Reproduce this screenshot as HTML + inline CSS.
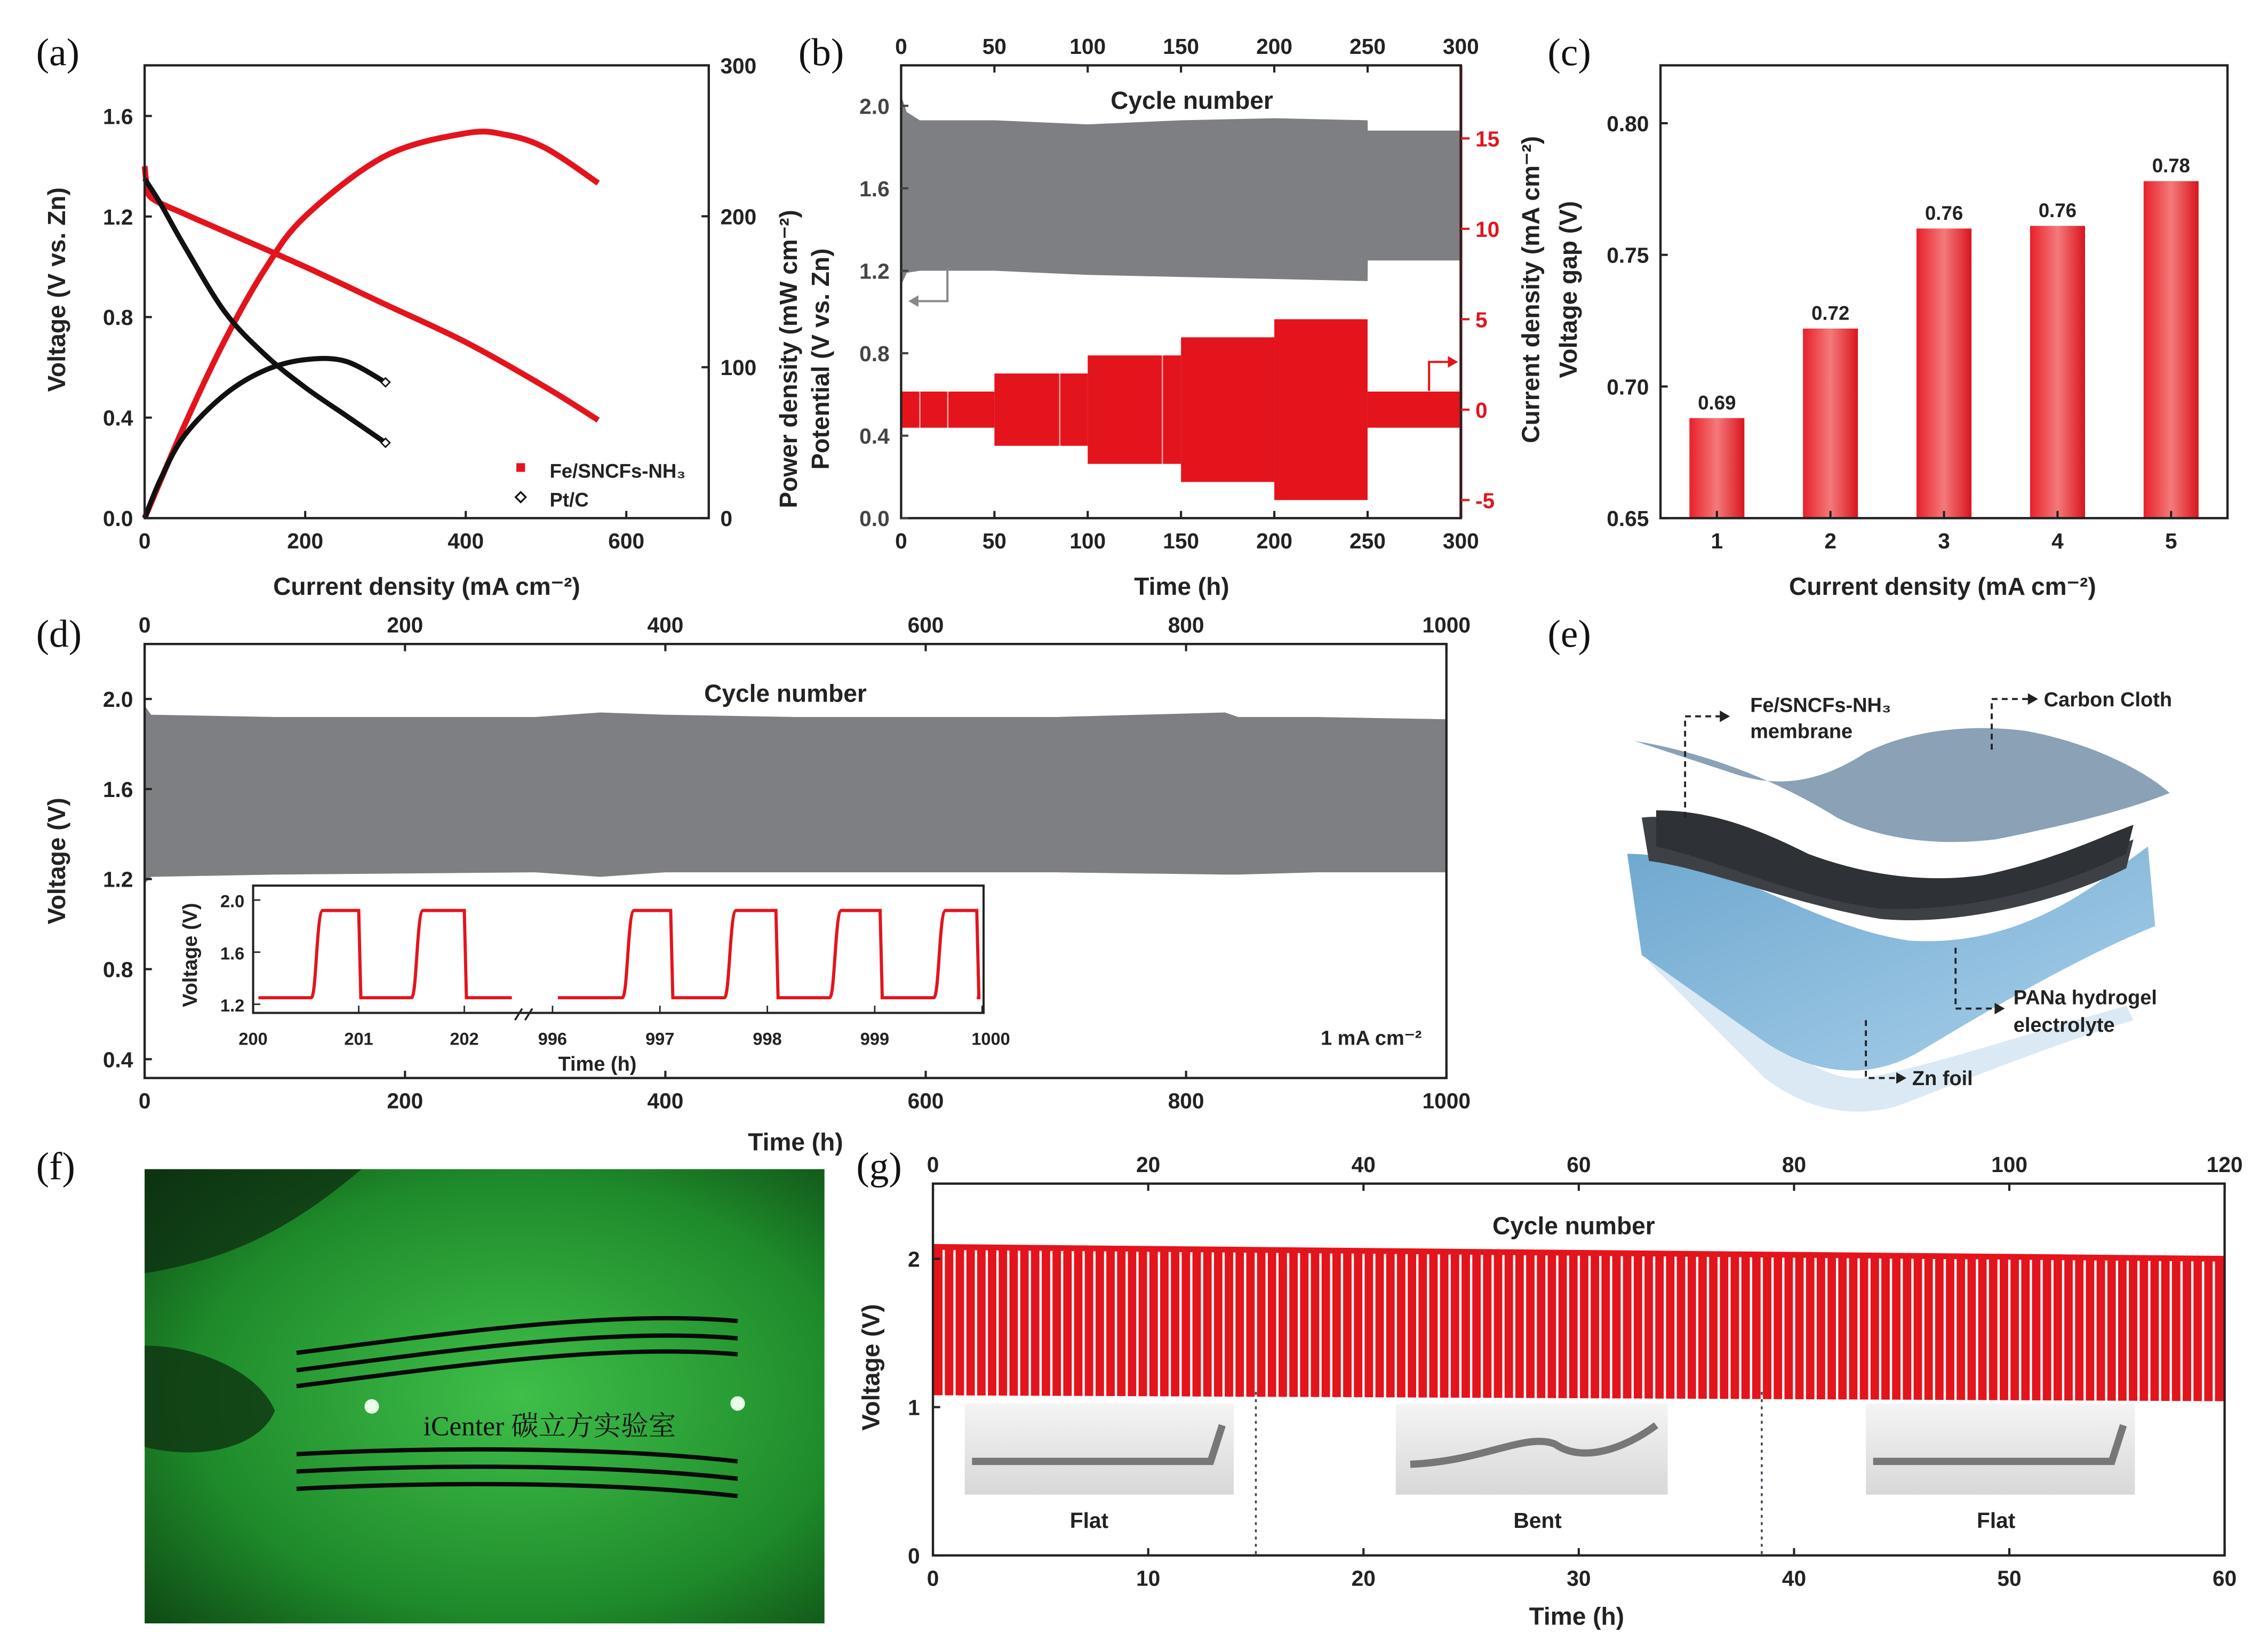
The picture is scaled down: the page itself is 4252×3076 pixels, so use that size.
<!DOCTYPE html>
<html><head><meta charset="utf-8">
<style>
html,body{margin:0;padding:0;background:#fff;}
svg{display:block;}
text{font-family:"Liberation Sans","Noto Sans CJK SC",sans-serif;font-weight:bold;fill:#222;}
.pl{font-family:"Liberation Serif",serif;font-weight:normal;font-size:27px;fill:#111;}
</style></head>
<body>
<svg id="fig" xmlns="http://www.w3.org/2000/svg" width="4252" height="3076" viewBox="0 0 1568 1134">
<defs>
<linearGradient id="barg" x1="0" x2="1" y1="0" y2="0"><stop offset="0" stop-color="#e8202a"/><stop offset="0.5" stop-color="#f47a7a"/><stop offset="1" stop-color="#d9141e"/></linearGradient>
<radialGradient id="greeng" cx="0.55" cy="0.5" r="0.8"><stop offset="0" stop-color="#3fbf4a"/><stop offset="0.6" stop-color="#1e8a2a"/><stop offset="1" stop-color="#0b3a10"/></radialGradient>
<linearGradient id="gel" x1="0" x2="1" y1="0" y2="1"><stop offset="0" stop-color="#6fa8cf"/><stop offset="1" stop-color="#a9d0ea"/></linearGradient>
<linearGradient id="photo" x1="0" x2="0" y1="0" y2="1"><stop offset="0" stop-color="#f4f4f4"/><stop offset="1" stop-color="#d8d8d8"/></linearGradient>
</defs>
</svg>
<script>
// ---------- data ----------
const aRedI=[0,3,10,50,100,200,300,400,500,565];
const aRedV=[1.40,1.32,1.27,1.21,1.14,1.00,0.85,0.70,0.52,0.39];
const aRedPI=[0,50,100,150,200,300,400,450,500,565];
const aRedP=[0,62,118,165,200,240,255,254,245,222];
const aBlkI=[0,20,50,100,150,200,250,300];
const aBlkV=[1.35,1.25,1.08,0.82,0.65,0.52,0.41,0.30];
const aBlkP=[0,26,55,82,98,105,104,90];
const bGrayT=[0,3,10,50,100,150,200,250,250.1,300];
const bGrayTop=[2.05,1.97,1.93,1.93,1.91,1.93,1.94,1.93,1.88,1.88];
const bGrayBot=[1.13,1.19,1.20,1.20,1.18,1.17,1.16,1.15,1.25,1.25];
const bSegStart=[0,50,100,150,200,250];
const bSegEnd=[50,100,150,200,250,300];
const bSegAmp=[1,2,3,4,5,1];
const cCats=["1","2","3","4","5"];
const cVals=[0.688,0.722,0.760,0.761,0.778];
const cLabels=["0.69","0.72","0.76","0.76","0.78"];
const dT=[0,5,100,300,350,400,500,700,830,840,900,1000];
const dTop=[1.97,1.93,1.92,1.92,1.94,1.93,1.92,1.92,1.94,1.92,1.92,1.91];
const dBot=[1.18,1.21,1.22,1.23,1.21,1.23,1.23,1.23,1.22,1.22,1.23,1.23];
const dInsetRiseL=[200.6,201.55];
const dInsetFallL=[201.0,202.0];
const dInsetRiseR=[996.7,997.65,998.63,999.6];
const dInsetFallR=[997.1,998.08,999.05,1000.1];
const gCycles=120;
const gTop0=2.10,gTop1=2.02,gBot0=1.08,gBot1=1.04;
// ---------- helpers ----------
const NS="http://www.w3.org/2000/svg";
const svg=document.getElementById('fig');
function el(tag,at,parent){const e=document.createElementNS(NS,tag);for(const k in at)e.setAttribute(k,at[k]);(parent||svg).appendChild(e);return e;}
function txt(x,y,s,size,anchor,parent,extra){const t=el('text',Object.assign({x:x,y:y,'font-size':size,'text-anchor':anchor||'middle'},extra||{}),parent);t.textContent=s;return t;}
function lin(d0,d1,p0,p1){return v=>p0+(v-d0)*(p1-p0)/(d1-d0);}
function pathOf(xs,ys,fx,fy){return xs.map((x,i)=>(i?'L':'M')+fx(x).toFixed(2)+','+fy(ys[i]).toFixed(2)).join(' ');}
function smooth(xs,ys,fx,fy){const P=xs.map((x,i)=>[fx(x),fy(ys[i])]);let d='M'+P[0][0]+','+P[0][1];for(let i=0;i<P.length-1;i++){const p0=P[i-1]||P[i],p1=P[i],p2=P[i+1],p3=P[i+2]||p2;const c1=[p1[0]+(p2[0]-p0[0])/6,p1[1]+(p2[1]-p0[1])/6],c2=[p2[0]-(p3[0]-p1[0])/6,p2[1]-(p3[1]-p1[1])/6];d+=` C${c1[0].toFixed(2)},${c1[1].toFixed(2)} ${c2[0].toFixed(2)},${c2[1].toFixed(2)} ${p2[0].toFixed(2)},${p2[1].toFixed(2)}`;}return d;}
function frame(x0,y0,x1,y1,name){const r=el('rect',{x:x0,y:y0,width:x1-x0,height:y1-y0,fill:'none',stroke:'#222','stroke-width':1.6});return r;}
function yTicks(vals,fy,x,side,fmt,color,size){vals.forEach(v=>{const y=fy(v);el('line',{x1:x,x2:x+5,y1:y,y2:y,stroke:color||'#222','stroke-width':1.5});const t=txt(x-8,y+5.5,fmt(v),size||15,'end');if(color)t.setAttribute('style','fill:'+color);});}
function xTicks(vals,fx,y,dir,fmt,size){vals.forEach(v=>{const x=fx(v);el('line',{x1:x,x2:x,y1:y,y2:y+(dir>0?-5:5),stroke:'#222','stroke-width':1.5});txt(x,dir>0?y+21:y-8,fmt(v),size||15,'middle');});}
// panel labels
[['(a)',25,45],['(b)',552,45],['(c)',1070,45],['(d)',25,447],['(e)',1070,447],['(f)',25,815],['(g)',592,815]].forEach(p=>{const t=txt(p[1],p[2],p[0],27,'start',svg,{class:'pl'});});

// ---------- panel a ----------
{
const g=el('g',{});
const fx=lin(0,600,100,433), fy=lin(0,1.6,358,80), fp=lin(0,300,358,45);
const X1=490;
yTicks([0,0.4,0.8,1.2,1.6],fy,100,-1,v=>v.toFixed(1));
[0,100,200,300].forEach(v=>{const y=fp(v);el('line',{x1:X1,x2:X1-5,y1:y,y2:y,stroke:'#222','stroke-width':1.5});txt(X1+8,y+5.5,String(v),15,'start');});
xTicks([0,200,400,600],fx,358,1,v=>String(v));
const rv=el('path',{d:smooth(aRedI,aRedV,fx,fy),fill:'none',stroke:'#e3141c','stroke-width':4,'stroke-linejoin':'round'},g);
const rp=el('path',{d:smooth(aRedPI,aRedP,fx,fp),fill:'none',stroke:'#e3141c','stroke-width':4,'stroke-linejoin':'round'},g);
const bv=el('path',{d:smooth(aBlkI,aBlkV,fx,fy),fill:'none',stroke:'#111','stroke-width':3.5},g);
const bp=el('path',{d:smooth(aBlkI,aBlkP,fx,fp),fill:'none',stroke:'#111','stroke-width':3.5},g);
[[aBlkV,fy],[aBlkP,fp]].forEach(s=>{const i=aBlkI.length-1;el('path',{d:`M${fx(aBlkI[i])},${s[1](s[0][i])-3}l3,3l-3,3l-3,-3z`,fill:'#fff',stroke:'#111','stroke-width':1},g);});
frame(100,45,X1,358,'panel-a-axes-box');
el('rect',{x:357,y:320,width:6,height:6,fill:'#e3141c'},g);
txt(380,330,'Fe/SNCFs-NH\u2083',13.5,'start',g);
el('path',{d:'M360,340l3.5,3.5l-3.5,3.5l-3.5,-3.5z',fill:'#fff',stroke:'#111','stroke-width':1.2},g);
txt(380,350,'Pt/C',13.5,'start',g);
txt(295,411,'Current density (mA cm\u207B\u00B2)',17,'middle',g);
const yl=txt(0,0,'Voltage (V vs. Zn)',17,'middle',g,{transform:'translate(45,200) rotate(-90)'});
txt(0,0,'Power density (mW cm\u207B\u00B2)',17,'middle',g,{transform:'translate(551,248) rotate(-90)'});
}
// ---------- panel b ----------
{
const g=el('g',{});
const fx=lin(0,300,623,1010), fy=lin(0,2.0,358,73), fc=lin(0,5,283,220.5);
const gray=el('path',{d:pathOf(bGrayT,bGrayTop,fx,fy)+' '+pathOf(bGrayT.slice().reverse(),bGrayBot.slice().reverse(),fx,fy).replace('M','L')+'Z',fill:'#7d7f82'},g);
bSegStart.forEach((s,i)=>{const r=el('rect',{x:fx(s),y:fc(bSegAmp[i]),width:fx(bSegEnd[i])-fx(s),height:fc(-bSegAmp[i])-fc(bSegAmp[i]),fill:'#e3141c'},g);});
[[10,1],[25,1],[85,2],[140,3]].forEach(t=>el('line',{x1:fx(t[0]),x2:fx(t[0]),y1:fc(t[1]),y2:fc(-t[1]),stroke:'#f7a0a0','stroke-width':1},g));
frame(623,45,1010,358,'panel-b-axes-box');
yTicks([0,0.4,0.8,1.2,1.6,2.0],fy,623,-1,v=>v.toFixed(1),'#444');
[-5,0,5,10,15].forEach(v=>{const y=fc(v);el('line',{x1:1010,x2:1016,y1:y,y2:y,stroke:'#e3141c','stroke-width':1.5});txt(1020,y+5.5,String(v),15,'start',g,{style:'fill:#e3141c'});});
el('line',{x1:1010,x2:1010,y1:45,y2:358,stroke:'#e3141c','stroke-width':2},g);
xTicks([0,50,100,150,200,250,300],fx,358,1,v=>String(v));
xTicks([0,50,100,150,200,250,300],fx,45,-1,v=>String(v));
txt(824,75,'Cycle number',17,'middle',g);
el('path',{d:'M655,185 L655,208 L630,208',fill:'none',stroke:'#888','stroke-width':1.5},g);el('path',{d:'M628,208l7,-4v8z',fill:'#888'},g);
el('path',{d:'M988,270 L988,250 L1005,250',fill:'none',stroke:'#e3141c','stroke-width':1.5},g);el('path',{d:'M1008,250l-7,-4v8z',fill:'#e3141c'},g);
txt(817,411,'Time (h)',17,'middle',g);
txt(0,0,'Potential (V vs. Zn)',17,'middle',g,{transform:'translate(573,248) rotate(-90)'});
txt(0,0,'Current density (mA cm\u207B\u00B2)',17,'middle',g,{transform:'translate(1064,200) rotate(-90)'});
}
// ---------- panel c ----------
{
const g=el('g',{});
const fy=lin(0.65,0.80,358,85); const fx=i=>1187+i*78.5;
cVals.forEach((v,i)=>{const r=el('rect',{x:fx(i)-19,y:fy(v),width:38,height:358-fy(v),fill:'url(#barg)'},g);txt(fx(i),fy(v)-6,cLabels[i],13.5,'middle',g);});
frame(1148,45,1540,358,'panel-c-axes-box');
yTicks([0.65,0.70,0.75,0.80],fy,1148,-1,v=>v.toFixed(2));
cCats.forEach((c,i)=>{el('line',{x1:fx(i),x2:fx(i),y1:358,y2:353,stroke:'#222','stroke-width':1.5});txt(fx(i),379,c,15,'middle',g);});
txt(1343,411,'Current density (mA cm\u207B\u00B2)',17,'middle',g);
txt(0,0,'Voltage gap (V)',17,'middle',g,{transform:'translate(1090,200) rotate(-90)'});
}
// ---------- panel d ----------
{
const g=el('g',{});
const fx=lin(0,1000,100,1000), fy=lin(0.4,2.0,732,483);
const b=el('path',{d:pathOf(dT,dTop,fx,fy)+' '+pathOf(dT.slice().reverse(),dBot.slice().reverse(),fx,fy).replace('M','L')+'Z',fill:'#7d7f82'},g);
frame(100,445,1000,745,'panel-d-axes-box');
yTicks([0.4,0.8,1.2,1.6,2.0],fy,100,-1,v=>v.toFixed(1));
xTicks([0,200,400,600,800,1000],fx,745,1,v=>String(v));
xTicks([0,200,400,600,800,1000],fx,445,-1,v=>String(v));
txt(543,485,'Cycle number',17,'middle',g);
txt(948,722,'1 mA cm\u207B\u00B2',14,'middle',g);
txt(550,795,'Time (h)',17,'middle',g);
txt(0,0,'Voltage (V)',17,'middle',g,{transform:'translate(45,595) rotate(-90)'});
const ig=el('g',{},g);
el('rect',{x:175,y:612,width:505,height:88,fill:'#fff',stroke:'#222','stroke-width':1.5},ig);
const iy=lin(1.2,2.0,694,622), fl=lin(200,201,175,248), fr=lin(996,1000,382,679);
const hi=1.92, lo=1.25;
function wave(rise,fall,f,t0,t1){let d='M'+f(t0)+','+iy(lo);rise.forEach((r,i)=>{d+=' L'+f(r-0.05)+','+iy(lo)+' C'+f(r)+','+iy(lo)+' '+f(r)+','+iy(hi)+' '+f(r+0.06)+','+iy(hi)+' L'+f(fall[i])+','+iy(hi)+' L'+f(fall[i]+0.02)+','+iy(lo);});d+=' L'+f(t1)+','+iy(lo);return d;}
const wl=el('path',{d:wave(dInsetRiseL,dInsetFallL,fl,200.05,202.45),fill:'none',stroke:'#e3141c','stroke-width':2.2},ig);
const wr=el('path',{d:wave(dInsetRiseR,dInsetFallR.map(v=>Math.min(v,999.95)),fr,996.05,999.95),fill:'none',stroke:'#e3141c','stroke-width':2.2},ig);
[1.2,1.6,2.0].forEach(v=>{el('line',{x1:175,x2:180,y1:iy(v),y2:iy(v),stroke:'#222'},ig);txt(169,iy(v)+5,v.toFixed(1),12,'end',ig);});
[200,201,202].forEach(v=>{el('line',{x1:fl(v),x2:fl(v),y1:700,y2:695,stroke:'#222'},ig);txt(fl(v),722,String(v),12,'middle',ig);});
[996,997,998,999,1000].forEach(v=>{el('line',{x1:fr(v),x2:fr(v),y1:700,y2:695,stroke:'#222'},ig);txt(fr(v)+(v==1000?6:0),722,String(v),12,'middle',ig);});
el('path',{d:'M356,705l5,-8 M363,705l5,-8',stroke:'#222','stroke-width':1.3},ig);
txt(413,740,'Time (h)',14,'middle',ig);
txt(0,0,'Voltage (V)',14,'middle',ig,{transform:'translate(136,660) rotate(-90)'});
}
// ---------- panel e ----------
{
const g=el('g',{});
el('path',{d:'M1135,640 C1200,680 1240,750 1290,745 C1340,735 1400,715 1470,695 L1475,705 C1410,725 1350,750 1310,765 C1270,775 1240,760 1220,745 L1140,665 Z',fill:'#dbe9f4'},g);
el('path',{d:'M1125,590 C1190,590 1250,640 1320,650 C1400,655 1450,610 1485,585 L1490,640 C1440,660 1380,695 1330,725 C1290,750 1250,740 1220,720 L1135,660 Z',fill:'url(#gel)'},g);
el('path',{d:'M1135,565 C1170,560 1240,590 1300,610 C1360,625 1430,600 1475,580 L1470,600 C1420,625 1350,640 1300,635 C1240,625 1180,600 1140,595 Z',fill:'#3d4146'},g);
el('path',{d:'M1145,560 C1180,560 1210,570 1250,590 C1290,605 1330,610 1370,605 C1420,595 1460,575 1475,570 L1470,590 C1420,615 1360,630 1300,628 C1240,620 1190,595 1145,585 Z',fill:'#2e3135'},g);
el('path',{d:'M1130,512 C1180,520 1230,540 1270,565 C1300,580 1340,585 1380,580 C1430,570 1470,560 1500,548 C1480,530 1440,512 1400,505 C1360,500 1320,505 1290,520 C1260,540 1230,545 1200,535 Z',fill:'#8aa1b6'},g);
const dash={fill:'none',stroke:'#222','stroke-width':1.4,'stroke-dasharray':'4,3'};
el('path',Object.assign({d:'M1165,565 L1165,495 L1190,495'},dash),g);el('path',{d:'M1196,495l-7,-4v8z',fill:'#222'},g);
el('path',Object.assign({d:'M1377,518 L1377,483 L1403,483'},dash),g);el('path',{d:'M1409,483l-7,-4v8z',fill:'#222'},g);
el('path',Object.assign({d:'M1352,655 L1352,697 L1380,697'},dash),g);el('path',{d:'M1386,697l-7,-4v8z',fill:'#222'},g);
el('path',Object.assign({d:'M1290,705 L1290,745 L1312,745'},dash),g);el('path',{d:'M1318,745l-7,-4v8z',fill:'#222'},g);
txt(1210,492,'Fe/SNCFs-NH\u2083',14,'start',g);txt(1210,510,'membrane',14,'start',g);
txt(1413,488,'Carbon Cloth',14,'start',g);
txt(1392,694,'PANa hydrogel',14,'start',g);txt(1392,713,'electrolyte',14,'start',g);
txt(1322,750,'Zn foil',14,'start',g);
}
// ---------- panel f ----------
{
const g=el('g',{});
el('rect',{x:100,y:808,width:470,height:314,fill:'url(#greeng)'},g);
el('path',{d:'M100,808 L250,808 C200,850 160,870 100,880Z',fill:'#0d2a10',opacity:0.7},g);
el('path',{d:'M100,930 C140,930 180,950 190,975 C180,1000 140,1010 100,1000Z',fill:'#0f3312',opacity:0.8},g);
[[0,935],[12,947],[24,958]].forEach(o=>{el('path',{d:`M205,${o[1]} C300,${o[1]-12} 420,${o[1]-30} 510,${o[1]-22}`,fill:'none',stroke:'#0a0a0a','stroke-width':3},g);});
[1005,1017,1029].forEach(y=>{el('path',{d:`M205,${y} C300,${y-5} 420,${y-5} 510,${y+5}`,fill:'none',stroke:'#0a0a0a','stroke-width':3},g);});
el('circle',{cx:257,cy:972,r:5,fill:'#eaffea'},g);el('circle',{cx:510,cy:970,r:5,fill:'#eaffea'},g);
txt(380,992,'iCenter 碳立方实验室',19,'middle',g,{style:'fill:#111;font-weight:normal;font-family:"Liberation Serif","Noto Serif CJK SC",serif'});
}
// ---------- panel g ----------
{
const g=el('g',{});
const fx=lin(0,60,645,1538), fy=lin(0,2,1075,870), fc=lin(0,120,645,1538);
const top=t=>gTop0+(gTop1-gTop0)*t/60, bot=t=>gBot0+(gBot1-gBot0)*t/60;
const band=el('path',{d:`M${fx(0)},${fy(top(0))} L${fx(60)},${fy(top(60))} L${fx(60)},${fy(bot(60))} L${fx(0)},${fy(bot(0))}Z`,fill:'#e3141c'},g);
for(let i=1;i<gCycles;i++){const t=i*60/gCycles;el('line',{x1:fx(t),x2:fx(t),y1:fy(top(t))+4,y2:fy(bot(t)),stroke:'#fff','stroke-width':1.6},g);}
const ph=[[667,853],[965,1153],[1290,1476]];
ph.forEach((p,i)=>{const r=el('rect',{x:p[0],y:970,width:p[1]-p[0],height:63,fill:'url(#photo)'},g);
el('path',{d:i==1?`M${p[0]+10},${1012} C${p[0]+60},1010 ${p[0]+90},990 ${p[0]+110},998 C${p[0]+130},1012 ${p[0]+160},1000 ${p[0]+180},985`:`M${p[0]+5},1010 L${p[0]+170},1010 L${p[1]-8},985`,fill:'none',stroke:'#777','stroke-width':5},g);});
[15,38.5].forEach(t=>el('line',{x1:fx(t),x2:fx(t),y1:962,y2:1075,stroke:'#445','stroke-width':1.3,'stroke-dasharray':'2,3'},g));
txt(753,1056,'Flat',15,'middle',g);txt(1063,1056,'Bent',15,'middle',g);txt(1380,1056,'Flat',15,'middle',g);
frame(645,818,1538,1075,'panel-g-axes-box');
[0,1,2].forEach(v=>{const y=fy(v);el('line',{x1:645,x2:650,y1:y,y2:y,stroke:'#222','stroke-width':1.5});txt(636,y+5.5,String(v),15,'end',g);});
xTicks([0,10,20,30,40,50,60],fx,1075,1,v=>String(v));
xTicks([0,20,40,60,80,100,120],fc,818,-1,v=>String(v));
txt(1088,853,'Cycle number',17,'middle',g);
txt(1090,1123,'Time (h)',17,'middle',g);
txt(0,0,'Voltage (V)',17,'middle',g,{transform:'translate(608,945) rotate(-90)'});
}
</script>
</body></html>
